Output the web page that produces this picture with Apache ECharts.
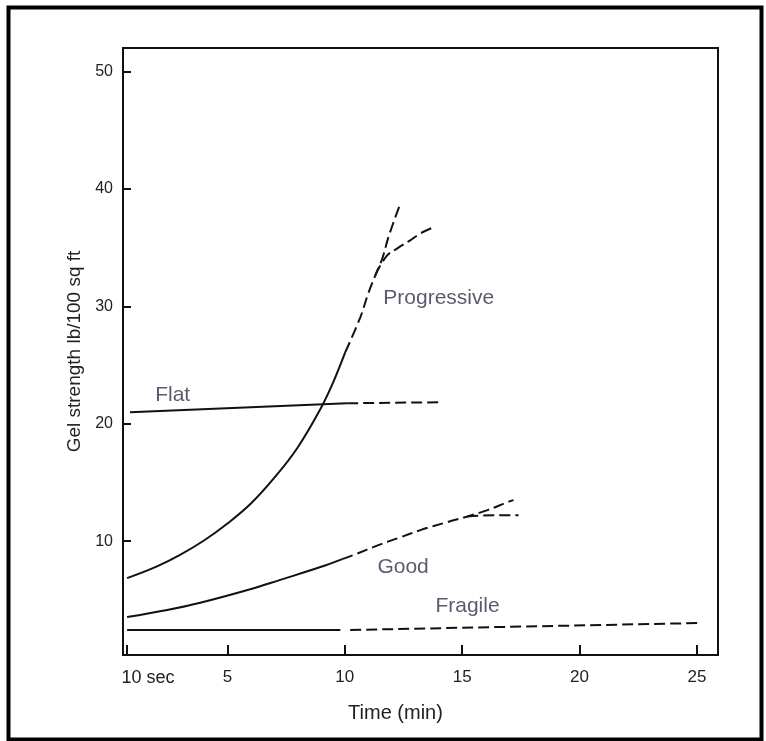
<!DOCTYPE html>
<html>
<head>
<meta charset="utf-8">
<script src="https://cdn.jsdelivr.net/npm/echarts@6/dist/echarts.min.js"></script>
<style>
html,body{margin:0;padding:0;background:#fff;}
#chart{width:766px;height:741px;}
</style>
</head>
<body>
<div id="chart"></div>
<script>
// ---- data (x in minutes, y in lb/100 sq ft) ----
const xTickValues = [0.725, 5, 10, 15, 20, 25];
const xTickLabels = ['10 sec', '5', '10', '15', '20', '25'];
const yTickValues = [10, 20, 30, 40, 50];

const progressiveSolid = [[0.725, 6.85], [2.0, 7.85], [3.0, 8.85], [4.0, 10.05], [5.0, 11.5], [6.0, 13.2], [7.0, 15.4], [8.0, 18.0], [9.0, 21.4], [9.5, 23.5], [10.02, 26.09]];
const progressiveDashed = [[10.02, 26.09], [10.66, 29.06], [11.0, 31.1], [11.3, 32.64], [11.6, 34.09], [11.85, 35.83], [12.15, 37.57], [12.37, 38.77]];
const progressiveBranch = [[11.3, 32.64], [11.77, 34.26], [12.24, 34.94], [12.79, 35.62], [13.22, 36.21], [13.77, 36.72]];

const flatSolid = [[0.85, 20.98], [10.1, 21.74]];
const flatDashed = [[10.1, 21.74], [14.16, 21.83]];

const goodSolid = [[0.725, 3.53], [2.43, 4.13], [3.84, 4.75], [5.97, 5.9], [7.25, 6.7], [8.96, 7.79], [9.89, 8.47]];
const goodDashed = [[9.89, 8.47], [10.36, 8.81], [11.43, 9.66], [12.28, 10.26], [13.22, 10.94], [14.37, 11.62], [15.22, 12.1], [16.08, 12.64], [16.93, 13.32], [17.19, 13.49]];
const goodBranch = [[15.22, 12.1], [16.33, 12.21], [17.4, 12.21]];

const fragileSolid = [[0.725, 2.43], [9.81, 2.43]];
const fragileDashed = [[10.23, 2.43], [25.03, 3.02]];

const curveLabels = ['Flat', 'Progressive', 'Good', 'Fragile'];
const curveLabelAnchors = [[1.92, 22.43], [11.64, 30.68], [11.39, 7.79], [13.86, 4.47]];

// ---- chart ----
const chart = echarts.init(document.getElementById('chart'));
const INK = '#111';
const FONT = 'Liberation Sans, Arial, sans-serif';
const solidStyle = { color: INK, width: 2, type: 'solid' };
const dashStyle = { color: INK, width: 2, type: [11, 5] };

function lineSeries(data, style, smooth) {
  return {
    type: 'line', data: data, showSymbol: false, symbol: 'none',
    smooth: smooth ? 0.4 : false, lineStyle: style, silent: true, z: 3
  };
}

const option = {
  animation: false,
  backgroundColor: '#fff',
  grid: { left: 123, right: 48, top: 48, bottom: 86, show: true, borderColor: INK, borderWidth: 2, backgroundColor: 'transparent' },
  xAxis: {
    type: 'value', min: 0.55, max: 25.9,
    name: 'Time (min)', nameLocation: 'middle', nameGap: 48,
    nameTextStyle: { fontFamily: FONT, fontSize: 20, color: '#222', padding: [0, 50, 0, 0] },
    axisLine: { show: true, lineStyle: { color: INK, width: 2 } },
    axisTick: { show: true, inside: true, length: 10, customValues: xTickValues, lineStyle: { color: INK, width: 2 } },
    axisLabel: {
      customValues: xTickValues, margin: 14, color: '#222', fontFamily: FONT, fontSize: 17,
      formatter: function (v) {
        const i = xTickValues.findIndex(t => Math.abs(t - v) < 1e-6);
        const s = i >= 0 ? xTickLabels[i] : '';
        return i === 0 ? '{first|' + s + '}' : s;
      },
      rich: { first: { fontFamily: FONT, fontSize: 18, color: '#222', padding: [0, 0, 0, 42] } }
    },
    splitLine: { show: false }
  },
  yAxis: {
    type: 'value', min: 0.3, max: 52,
    name: 'Gel strength lb/100 sq ft', nameLocation: 'middle', nameGap: 38, nameRotate: 90,
    nameTextStyle: { fontFamily: FONT, fontSize: 19, color: '#222' },
    axisLine: { show: true, lineStyle: { color: INK, width: 2 } },
    axisTick: { show: true, inside: true, length: 8, customValues: yTickValues, lineStyle: { color: INK, width: 2 } },
    axisLabel: { customValues: yTickValues, margin: 10, color: '#222', fontFamily: FONT, fontSize: 16 },
    splitLine: { show: false }
  },
  series: [
    lineSeries(progressiveSolid, solidStyle, true),
    lineSeries(progressiveDashed, dashStyle, true),
    lineSeries(progressiveBranch, dashStyle, true),
    lineSeries(flatSolid, solidStyle, false),
    lineSeries(flatDashed, dashStyle, false),
    lineSeries(goodSolid, solidStyle, true),
    lineSeries(goodDashed, dashStyle, true),
    lineSeries(goodBranch, dashStyle, true),
    lineSeries(fragileSolid, solidStyle, false),
    lineSeries(fragileDashed, dashStyle, false),
    {
      type: 'scatter', symbolSize: 0, silent: true, z: 4,
      data: curveLabels.map((n, i) => ({ name: n, value: curveLabelAnchors[i] })),
      label: {
        show: true, position: 'right', distance: 0, formatter: '{b}',
        align: 'left', verticalAlign: 'middle',
        fontFamily: FONT, fontSize: 21, color: '#33304a'
      }
    }
  ],
  graphic: [{
    type: 'rect', left: 6, top: 5, silent: true, z: 100,
    shape: { width: 753, height: 732 },
    style: { fill: 'none', stroke: '#000', lineWidth: 4 }
  }]
};
chart.setOption(option);
</script>
</body>
</html>
